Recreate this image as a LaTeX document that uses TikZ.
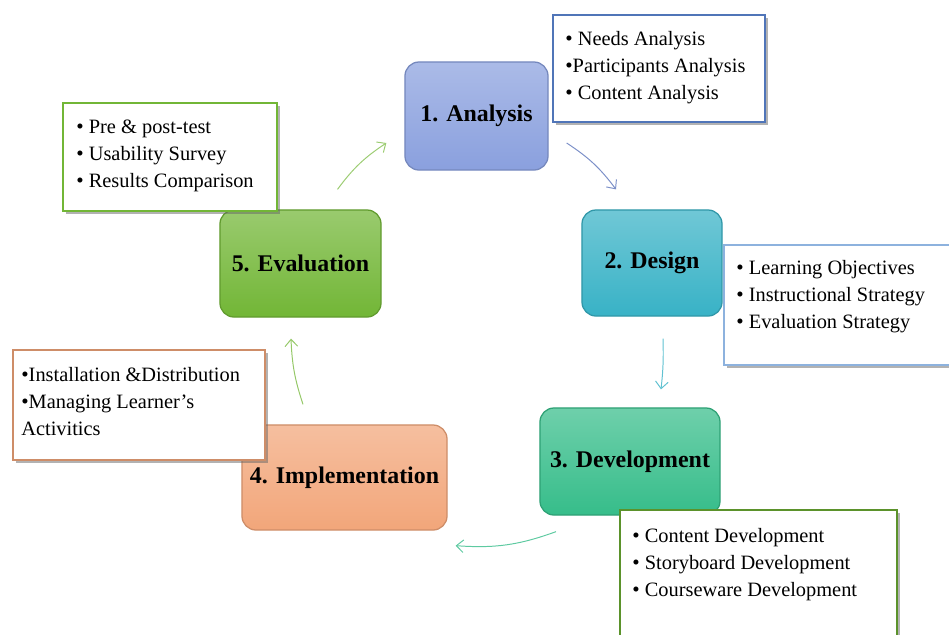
\documentclass[tikz,border=0pt]{standalone}
\usepackage{fontspec}
\setmainfont{Liberation Serif}
\usetikzlibrary{shadows,arrows.meta}

\definecolor{anaBlue}{HTML}{8AA0DE}
\definecolor{desTeal}{HTML}{38B2C6}
\definecolor{devGreen}{HTML}{36BD8A}
\definecolor{impOrange}{HTML}{F2A67A}
\definecolor{evaGreen}{HTML}{72B636}
\definecolor{noteBlue}{HTML}{5075B8}
\definecolor{noteSky}{HTML}{8DB2DE}
\newcommand{\bul}{{\fontsize{15}{15}\selectfont\textbullet}}

\begin{document}
\begin{tikzpicture}[x=0.025cm, y=-0.025cm,
    phase/.style={rounded corners=0.35cm, draw=#1!85!black, line width=0.9pt,
        top color=#1!72, bottom color=#1, font=\fontsize{17}{20}\selectfont\bfseries},
    note/.style={draw=#1, line width=1.3pt, fill=white,
        drop shadow={shadow xshift=2.2pt, shadow yshift=-2.2pt, fill=black!60}},
    notetext/.style={anchor=north west, inner sep=0pt, align=left,
        font=\fontsize{14.5}{19.2}\selectfont},
    cyc/.style={draw=#1, line width=0.7pt, -{Straight Barb[length=5pt,width=9pt]}}]
    \useasboundingbox (0,0) rectangle (949,634);

    % the five phases
    \node[phase=anaBlue, minimum width=3.575cm, minimum height=2.7cm] (ana) at (476.5,116) {1. Analysis};
    \node[phase=desTeal, minimum width=3.5cm, minimum height=2.65cm] (des) at (652,263) {2. Design};
    \node[phase=devGreen, minimum width=4.5cm, minimum height=2.675cm] (dev) at (630,461.5) {3. Development};
    \node[phase=impOrange, minimum width=5.125cm, minimum height=2.625cm] (imp) at (344.5,477.5) {4. Implementation};
    \node[phase=evaGreen, minimum width=4.025cm, minimum height=2.675cm] (eva) at (300.5,263.5) {5. Evaluation};

    % cycle arrows
    \draw[cyc=evaGreen!70] ([shift={(37,-20)}]eva.north) to[bend left=10] ([shift={(-18,27)}]ana.west);
    \draw[cyc=anaBlue!90!black] ([shift={(18,27)}]ana.east) to[bend left=10] ([shift={(-36,-20)}]des.north);
    \draw[cyc=desTeal!80] ([shift={(11,22)}]des.south) to[bend left=4] ([shift={(31,-18)}]dev.north);
    \draw[cyc=devGreen!80] ([shift={(-74,16)}]dev.south) to[bend left=12] ([shift={(8,15)}]imp.south east);
    \draw[cyc=evaGreen!75] ([shift={(-41.5,-20)}]imp.north) to[bend left=8] ([shift={(-9.5,21)}]eva.south);

    % notes
    \node[note=noteBlue, minimum width=5.3cm, minimum height=2.675cm] (anaNote) at (659,68.5) {};
    \node[notetext] (anaText) at ([shift={(13,17)}]anaNote.north west)
        {\bul{} Needs Analysis\\\bul Participants Analysis\\\bul{} Content Analysis};
    \node[note=evaGreen, minimum width=5.35cm, minimum height=2.7cm] (evaNote) at (170,157) {};
    \node[notetext] (evaText) at ([shift={(14,18)}]evaNote.north west)
        {\bul{} Pre \& post-test\\\bul{} Usability Survey\\\bul{} Results Comparison};
    \node[note=noteSky, minimum width=5.775cm, minimum height=3cm] (desNote) at (839.5,305) {};
    \node[notetext] (desText) at ([shift={(13,16)}]desNote.north west)
        {\bul{} Learning Objectives\\\bul{} Instructional Strategy\\\bul{} Evaluation Strategy};
    \node[note=impOrange!85!black, minimum width=6.3cm, minimum height=2.75cm] (impNote) at (139,405) {};
    \node[notetext] (impText) at ([shift={(9,18)}]impNote.north west)
        {\bul Installation \&Distribution\\\bul Managing Learner’s\\Activitics};
    \node[note=evaGreen!80!black, minimum width=6.925cm, minimum height=3.25cm] (devNote) at (758.5,575) {};
    \node[notetext] (devText) at ([shift={(13,19)}]devNote.north west)
        {\bul{} Content Development\\\bul{} Storyboard Development\\\bul{} Courseware Development};
\end{tikzpicture}
\end{document}
